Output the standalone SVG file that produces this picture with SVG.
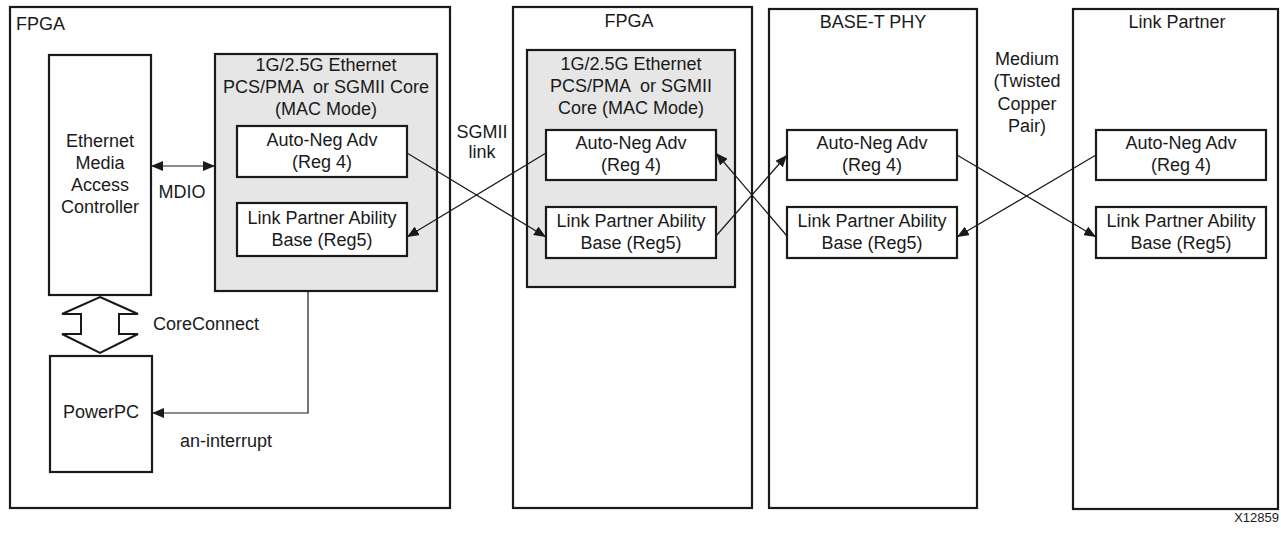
<svg xmlns="http://www.w3.org/2000/svg" width="1281" height="533" viewBox="0 0 1281 533">
<style>
text{font-family:"Liberation Sans",Arial,sans-serif;font-size:18px;fill:#1a1a1a}
.c{text-anchor:middle}
.outer{fill:#fff;stroke:#1a1a1a;stroke-width:2.2}
.core{fill:#e6e6e6;stroke:#1a1a1a;stroke-width:2.2}
.reg{fill:#fff;stroke:#1a1a1a;stroke-width:2.2}
.ln{fill:none;stroke:#1a1a1a;stroke-width:1.2}
</style>
<defs>
<marker id="ah" viewBox="0 0 12 10" refX="12" refY="5" markerWidth="12" markerHeight="10" markerUnits="userSpaceOnUse" orient="auto-start-reverse">
<path d="M0,0 L12,5 L0,10 z" fill="#1a1a1a"/>
</marker>
</defs>
<rect width="1281" height="533" fill="#fff"/>

<g id="fpga-left">
<rect class="outer" x="10" y="7" width="440" height="501"/>
<text x="16" y="30">FPGA</text>
</g>
<g id="emac">
<rect class="reg" x="49" y="55" width="102" height="240"/>
<text class="c" x="100" y="147">Ethernet</text>
<text class="c" x="100" y="169">Media</text>
<text class="c" x="100" y="191">Access</text>
<text class="c" x="100" y="213">Controller</text>
</g>
<g id="core-left">
<rect class="core" x="215" y="54" width="222" height="237"/>
<text class="c" x="326" y="71">1G/2.5G Ethernet</text>
<text class="c" x="326" y="93" xml:space="preserve">PCS/PMA  or SGMII Core</text>
<text class="c" x="326" y="115">(MAC Mode)</text>
</g>
<g id="an-left">
<rect class="reg" x="237" y="126" width="170" height="51"/>
<text class="c" x="322" y="146">Auto-Neg Adv</text>
<text class="c" x="322" y="168">(Reg 4)</text>
</g>
<g id="lp-left">
<rect class="reg" x="237" y="203" width="170" height="53"/>
<text class="c" x="322" y="224">Link Partner Ability</text>
<text class="c" x="322" y="246">Base (Reg5)</text>
</g>
<g id="powerpc">
<rect class="reg" x="50" y="356" width="102" height="116"/>
<text class="c" x="101" y="418">PowerPC</text>
</g>

<g id="fpga-mid">
<rect class="outer" x="513" y="7" width="239" height="501"/>
<text class="c" x="629" y="27">FPGA</text>
</g>
<g id="core-mid">
<rect class="core" x="527" y="50" width="208" height="237"/>
<text class="c" x="631" y="70">1G/2.5G Ethernet</text>
<text class="c" x="631" y="92" xml:space="preserve">PCS/PMA  or SGMII</text>
<text class="c" x="631" y="114">Core (MAC Mode)</text>
</g>
<g id="an-mid">
<rect class="reg" x="546" y="130" width="170" height="50"/>
<text class="c" x="631" y="149">Auto-Neg Adv</text>
<text class="c" x="631" y="171">(Reg 4)</text>
</g>
<g id="lp-mid">
<rect class="reg" x="546" y="207" width="170" height="51"/>
<text class="c" x="631" y="227">Link Partner Ability</text>
<text class="c" x="631" y="249">Base (Reg5)</text>
</g>

<g id="phy">
<rect class="outer" x="769" y="9" width="208" height="499"/>
<text class="c" x="873" y="28">BASE-T PHY</text>
</g>
<g id="an-phy">
<rect class="reg" x="787" y="130" width="170" height="50"/>
<text class="c" x="872" y="149">Auto-Neg Adv</text>
<text class="c" x="872" y="171">(Reg 4)</text>
</g>
<g id="lp-phy">
<rect class="reg" x="787" y="207" width="170" height="51"/>
<text class="c" x="872" y="227">Link Partner Ability</text>
<text class="c" x="872" y="249">Base (Reg5)</text>
</g>

<g id="link-partner">
<rect class="outer" x="1073" y="9" width="205" height="500"/>
<text class="c" x="1177" y="28">Link Partner</text>
</g>
<g id="an-lp">
<rect class="reg" x="1096" y="130" width="170" height="50"/>
<text class="c" x="1181" y="149">Auto-Neg Adv</text>
<text class="c" x="1181" y="171">(Reg 4)</text>
</g>
<g id="lp-lp">
<rect class="reg" x="1096" y="207" width="170" height="51"/>
<text class="c" x="1181" y="227">Link Partner Ability</text>
<text class="c" x="1181" y="249">Base (Reg5)</text>
</g>

<g id="connectors">
<line class="ln" x1="151" y1="166" x2="215" y2="166" marker-start="url(#ah)" marker-end="url(#ah)"/>
<polygon points="100,297 138,314 119,314 119,334 138,334 100,353 62,334 81,334 81,314 62,314" fill="#fff" stroke="#1a1a1a" stroke-width="2"/>
<polyline class="ln" points="308,291 308,413 152,413" marker-end="url(#ah)"/>
<line class="ln" x1="407" y1="153" x2="546" y2="237" marker-end="url(#ah)"/>
<line class="ln" x1="546" y1="153" x2="407" y2="237" marker-end="url(#ah)"/>
<line class="ln" x1="716" y1="236" x2="787" y2="155" marker-end="url(#ah)"/>
<line class="ln" x1="787" y1="236" x2="716" y2="153" marker-end="url(#ah)"/>
<line class="ln" x1="957" y1="155" x2="1096" y2="237" marker-end="url(#ah)"/>
<line class="ln" x1="1096" y1="155" x2="957" y2="237" marker-end="url(#ah)"/>
</g>

<g id="labels">
<text class="c" x="182" y="198">MDIO</text>
<text x="153" y="330">CoreConnect</text>
<text x="180" y="447">an-interrupt</text>
<text class="c" x="482" y="138">SGMII</text>
<text class="c" x="482" y="158">link</text>
<text class="c" x="1027" y="65">Medium</text>
<text class="c" x="1027" y="87">(Twisted</text>
<text class="c" x="1027" y="110">Copper</text>
<text class="c" x="1027" y="132">Pair)</text>
<text x="1279" y="522" text-anchor="end" style="font-size:13px">X12859</text>
</g>
</svg>
